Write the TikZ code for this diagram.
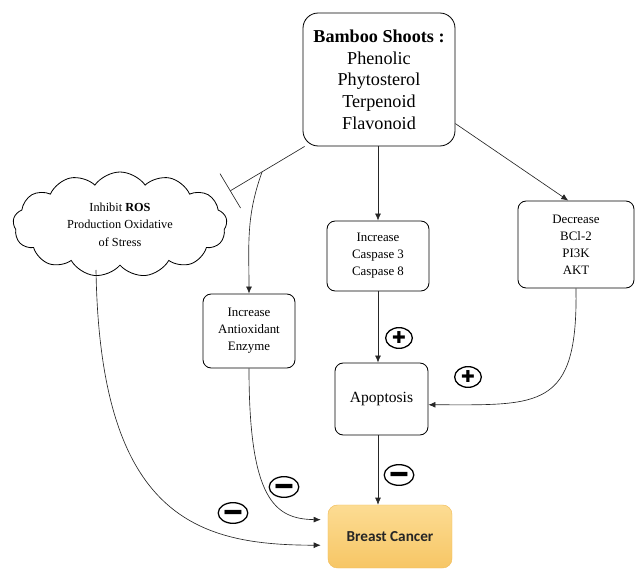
\documentclass[tikz,border=0pt]{standalone}
\usepackage{fontspec}
\setmainfont{Liberation Serif}
\newfontfamily\calibfont{Carlito}
\newfontfamily\symfont{DejaVu Sans}
\usetikzlibrary{arrows.meta,shapes.geometric,shapes.symbols,calc,positioning}
\definecolor{cancertop}{HTML}{FCDC93}
\definecolor{cancerbot}{HTML}{F7C665}
\definecolor{cancerline}{HTML}{F2BE5C}
\newcommand{\plussign}{{\symfont\fontsize{14}{14}\selectfont ✚}}
\newcommand{\minussign}{{\symfont\fontsize{14}{14}\selectfont\scalebox{1.35}[0.7]{▬}}}
\begin{document}
\begin{tikzpicture}[x=0.03cm,y=-0.03cm,>={Latex[length=6pt,width=5pt]},
  box/.style={draw,rounded corners=7pt,align=center,line width=0.7pt,font=\fontsize{11}{14.5}\selectfont},
  sign/.style={draw,ellipse,line width=1.1pt,minimum width=0.8cm,minimum height=0.62cm,inner sep=0pt},
  link/.style={->,draw=black!85,line width=0.55pt}]
  \useasboundingbox (0,0) rectangle (636,572);
  \node (bamboo) [box,rounded corners=13pt,minimum width=4.56cm,minimum height=3.99cm,font=\fontsize{15.5}{18.5}\selectfont] at (379,79.5) {\textbf{Bamboo Shoots :}\\Phenolic\\Phytosterol\\Terpenoid\\Flavonoid};
  \node (ros) [draw,cloud,cloud puffs=13,cloud puff arc=110,aspect=2,minimum width=6.42cm,minimum height=3.15cm,inner sep=0pt,align=center,line width=0.7pt,font=\fontsize{10.5}{15}\selectfont] at (120,224.5) {Inhibit \textbf{ROS}\\Production Oxidative\\of Stress};
  \node (antiox) [box,minimum width=2.76cm,minimum height=2.22cm] at (249,331) {Increase\\Antioxidant\\Enzyme};
  \node (caspase) [box,minimum width=3.06cm,minimum height=2.1cm] at (378,256) {Increase\\Caspase 3\\Caspase 8};
  \node (decrease) [box,minimum width=3.48cm,minimum height=2.61cm] at (576,244.5) {Decrease\\BCl-2\\PI3K\\AKT};
  \node (apoptosis) [box,minimum width=2.79cm,minimum height=2.16cm,font=\fontsize{13.3}{16}\selectfont] at (381.5,399) {Apoptosis};
  \node (cancer) [draw=cancerline,rounded corners=8pt,top color=cancertop,bottom color=cancerbot,minimum width=3.72cm,minimum height=1.89cm,text=black!85,font=\calibfont\bfseries\fontsize{13}{16}\selectfont] at (390,536.5) {Breast Cancer};
  \node (plus1) [sign] at (399,338) {\plussign};
  \node (plus2) [sign] at (468,377) {\plussign};
  \node (minus1) [sign] at (399,475) {\minussign};
  \node (minus2) [sign] at (284,487) {\minussign};
  \node (minus3) [sign] at (233,513) {\minussign};
  \coordinate (block) at (230,191);
  \coordinate (fork) at ($(bamboo.222)!0.57!(block)$);
  \coordinate (cloudfoot) at (96,270);
  \draw[-{Bar[width=1.2cm]},draw=black!85,line width=0.55pt] (bamboo.222) -- (block);
  \draw[link] (fork) to[out=-110,in=90] (antiox.north);
  \draw[link] (bamboo.south -| caspase.north) -- (caspase.north);
  \draw[link] (bamboo.-30) -- (decrease.100);
  \draw[link] (caspase.south) -- (caspase.south |- apoptosis.north);
  \draw[link] (decrease.south) .. controls (578,410) and (540,405) .. (apoptosis.-7);
  \draw[link] (apoptosis.south -| caspase.south) -- (caspase.south |- cancer.north);
  \draw[link,shorten >=6pt] (antiox.south) .. controls (249,500) and (275,519) .. (cancer.165);
  \draw[link,shorten >=6pt] (cloudfoot) .. controls (100,520) and (200,545) .. (cancer.188);
\end{tikzpicture}
\end{document}
